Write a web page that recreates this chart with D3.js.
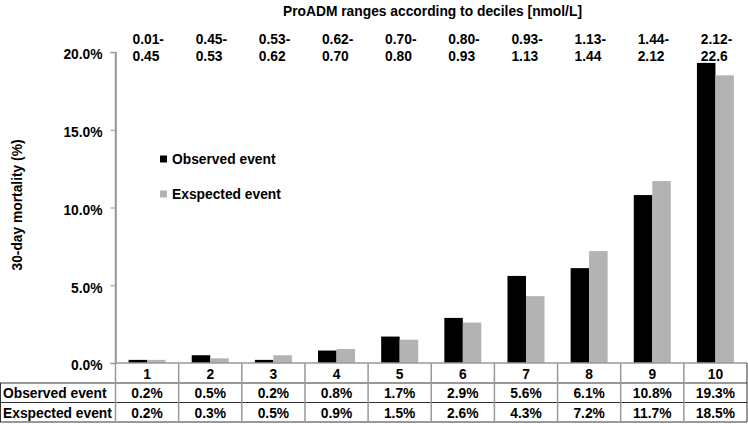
<!DOCTYPE html>
<html><head><meta charset="utf-8">
<script src="https://cdn.jsdelivr.net/npm/d3@7"></script>
<style>body{margin:0;background:#fff}svg{display:block;font-family:"Liberation Sans",Arial,sans-serif;font-weight:bold}</style>
</head><body><svg id="c" width="748" height="424"></svg>
<script>
const categories = ["1","2","3","4","5","6","7","8","9","10"];
const rangesTop = ["0.01-","0.45-","0.53-","0.62-","0.70-","0.80-","0.93-","1.13-","1.44-","2.12-"];
const rangesBottom = ["0.45","0.53","0.62","0.70","0.80","0.93","1.13","1.44","2.12","22.6"];
const observed = [0.2,0.5,0.2,0.8,1.7,2.9,5.6,6.1,10.8,19.3];
const expected = [0.2,0.3,0.5,0.9,1.5,2.6,4.3,7.2,11.7,18.5];
const seriesNames = ["Observed event","Exspected event"];
const yTicks = [0,5,10,15,20];
const title = "ProADM ranges according to deciles [nmol/L]";
const yLabel = "30-day mortality (%)";

const colors = ["#000000","#b3b3b3"];
const FS = 13.8;
const svg = d3.select("#c");
const pLeft = 115.5, pRight = 747, pTop = 52, pBottom = 363;
const x = d3.scaleBand().domain(categories).range([pLeft, pRight]);
const y = d3.scaleLinear().domain([0,20]).range([pBottom, pTop]);
const barW = 18.5;
const sub = d3.scaleBand().domain([0,1]).range([0, barW*2]);

// title
svg.append("text").attr("x",432.5).attr("y",16).attr("text-anchor","middle")
  .attr("font-size",FS).text(title);
// range labels
categories.forEach((c,i)=>{
  svg.append("text").attr("x",x(c)+17).attr("y",44).attr("font-size",FS).text(rangesTop[i]);
  svg.append("text").attr("x",x(c)+17).attr("y",61).attr("font-size",FS).text(rangesBottom[i]);
});

// bars
const data = [observed, expected];
data.forEach((vals,s)=>{
  svg.append("g").selectAll("rect").data(vals).join("rect")
    .attr("x",(d,i)=>x(categories[i]) + x.bandwidth()/2 - barW + sub(s))
    .attr("width",barW)
    .attr("y",d=>y(d)).attr("height",d=>y(0)-y(d))
    .attr("fill",colors[s]);
});

// y axis
const ya = svg.append("g").attr("transform",`translate(${pLeft},0)`)
  .call(d3.axisLeft(y).tickValues(yTicks).tickSize(5).tickPadding(8).tickFormat(d=>d.toFixed(1)+"%"));
ya.select(".domain").attr("stroke","#999").attr("stroke-width",1.5);
ya.selectAll(".tick line").attr("stroke","#999");
ya.selectAll(".tick text").attr("font-size",FS).attr("font-family","Liberation Sans, Arial, sans-serif")
  .attr("font-weight","bold").attr("fill","#000").attr("dy","0.5em");

svg.append("text").attr("transform","translate(22,205) rotate(-90)")
  .attr("text-anchor","middle").attr("font-size",FS).text(yLabel);

// legend
seriesNames.forEach((n,i)=>{
  const ly = [159,194][i];
  svg.append("rect").attr("x",160).attr("y",ly-3.5).attr("width",7).attr("height",7).attr("fill",colors[i]);
  svg.append("text").attr("x",172).attr("y",ly+5).attr("font-size",FS).text(n);
});

// table
const rowY = [363, 383, 402.5, 422];
const t = svg.append("g");
t.append("line").attr("x1",pLeft).attr("x2",pRight).attr("y1",rowY[0]).attr("y2",rowY[0]).attr("stroke","#999").attr("stroke-width",1.5);
[1,2,3].forEach(k=>{
  t.append("line").attr("x1",0).attr("x2",pRight).attr("y1",rowY[k]).attr("y2",rowY[k]).attr("stroke","#333").attr("stroke-width",1);
});
t.append("line").attr("x1",pLeft).attr("x2",pLeft).attr("y1",pTop).attr("y2",rowY[3]).attr("stroke","#999").attr("stroke-width",1.5);
t.append("line").attr("x1",0.5).attr("x2",0.5).attr("y1",rowY[1]).attr("y2",rowY[3]).attr("stroke","#333");
categories.forEach((c,i)=>{
  const xx = x(c)+x.bandwidth();
  const last = i===categories.length-1;
  t.append("line").attr("x1",xx).attr("x2",xx).attr("y1",rowY[0]).attr("y2",rowY[3])
    .attr("stroke",last?"#333":"#999").attr("stroke-width",last?1:1.5);
});
categories.forEach((c,i)=>{
  const cx = x(c)+x.bandwidth()/2;
  t.append("text").attr("x",cx).attr("y",378.5).attr("text-anchor","middle").attr("font-size",FS).text(c);
  t.append("text").attr("x",cx).attr("y",398).attr("text-anchor","middle").attr("font-size",FS).text(observed[i].toFixed(1)+"%");
  t.append("text").attr("x",cx).attr("y",417.5).attr("text-anchor","middle").attr("font-size",FS).text(expected[i].toFixed(1)+"%");
});
t.append("text").attr("x",3).attr("y",398).attr("font-size",FS).text(seriesNames[0]);
t.append("text").attr("x",3).attr("y",417.5).attr("font-size",FS).text(seriesNames[1]);
</script></body></html>
